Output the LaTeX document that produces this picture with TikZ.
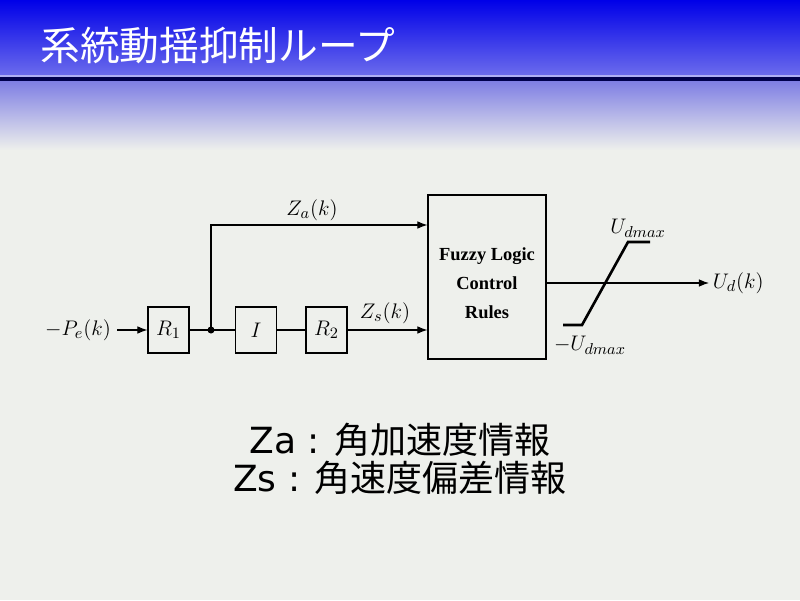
\documentclass[tikz,border=0pt]{standalone}
\usepackage{fontspec}
\usepackage{amsmath}
\usepackage{tikz}
\usetikzlibrary{positioning,arrows.meta,calc}
\newfontfamily\cjkfont{Noto Sans CJK JP}
\newfontfamily\latinsans{DejaVu Sans}
\newfontfamily\rulesfont{Liberation Serif}
\definecolor{bgcol}{RGB}{238,240,236}
\definecolor{hdtop}{RGB}{0,0,232}
\definecolor{hdbot}{RGB}{108,108,236}
\definecolor{hdline}{RGB}{0,0,78}
\definecolor{fadetop}{RGB}{128,128,228}
\newcommand{\Umax}{U_{dmax}}

\begin{document}
\begin{tikzpicture}[
  >=Latex,
  font=\fontsize{12.5}{15}\selectfont,
  blockbox/.style={draw, line width=0.6pt, minimum width=8.2mm, minimum height=9.2mm, inner sep=0pt},
  rulebox/.style={draw, line width=0.6pt, minimum width=23.6mm, minimum height=32.8mm},
  ruletext/.style={align=center, inner sep=0pt, font=\rulesfont\bfseries\fontsize{10.5}{16.5}\selectfont},
  sig/.style={->, line width=0.6pt},
  sat/.style={line width=1.5pt},
  lbl/.style={inner sep=1pt}
]

% page and header
\fill[bgcol] (0,0) rectangle (16,12);
\useasboundingbox (0,0) rectangle (16,12);
\shade[top color=hdtop, bottom color=hdbot] (0,10.48) rectangle (16,12);
\fill[hdbot!55!white] (0,10.46) rectangle (16,10.5);
\fill[hdline] (0,10.36) rectangle (16,10.46);
\shade[top color=fadetop, bottom color=bgcol] (0,9.0) rectangle (16,10.36);
\node[anchor=west, text=white, inner sep=0pt, font=\cjkfont\fontsize{22.6}{26}\selectfont] (title) at (0.8,11.1) {系統動揺抑制ループ};

% blocks
\node (pein) at (1.56,5.4) {$-P_e(k)$};
\node[blockbox] (r1box) at (3.37,5.4) {$R_1$};
\node[blockbox] (ibox) at (5.12,5.4) {$I$};
\node[blockbox] (r2box) at (6.53,5.4) {$R_2$};
\node[rulebox] (fuzzybox) at (9.74,6.46) {};
\node[ruletext] (fuzzytext) at ([yshift=-0.13cm]fuzzybox.center) {Fuzzy Logic\\Control\\Rules};
\coordinate (split) at (4.22,5.4);

\draw[sig] (pein) -- (r1box);
\draw[line width=0.6pt] (r1box) -- (split) -- (ibox);
\draw[line width=0.6pt] (ibox) -- (r2box);
\fill (split) circle (2pt);
\draw[sig] (r2box) -- (r2box -| fuzzybox.west);
\draw[sig] (split) |- ([yshift=1.04cm]fuzzybox.west);

\node[lbl] (zalabel) at (6.24,7.8) {$Z_a(k)$};
\node[lbl] (zslabel) at (7.7,5.74) {$Z_s(k)$};

% output and limiter
\node[anchor=west, inner sep=2pt] (udlabel) at (14.18,6.34) {$U_d(k)$};
\draw[sig] ([yshift=-0.12cm]fuzzybox.east) -- ([yshift=-0.12cm]fuzzybox.east -| udlabel.west);

\coordinate (sat1) at (11.26,5.5);
\coordinate (sat2) at (11.64,5.5);
\coordinate (sat3) at (12.56,7.16);
\coordinate (sat4) at (13.0,7.16);
\draw[sat] (sat1) -- (sat2) -- (sat3) -- (sat4);
\node[lbl] (uplabel) at (12.76,7.44) {$\Umax$};
\node[lbl] (lolabel) at (11.8,5.1) {$-\Umax$};

% legend
\node[align=center, inner sep=0pt, font=\fontsize{20.5}{21.6}\selectfont] (legend) at (8,2.82)
{{\latinsans Za :} {\cjkfont 角加速度情報}\\ {\latinsans Zs :} {\cjkfont 角速度偏差情報}};

\end{tikzpicture}
\end{document}
